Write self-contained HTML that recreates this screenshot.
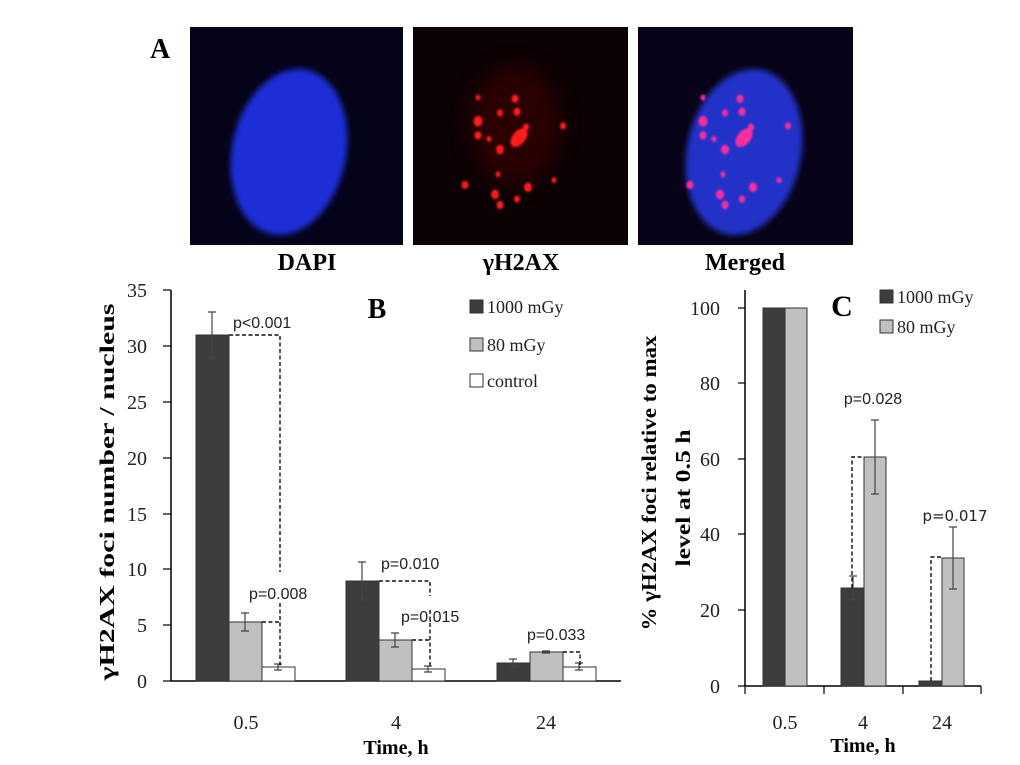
<!DOCTYPE html>
<html><head><meta charset="utf-8"><style>
html,body{margin:0;padding:0;background:#fff;}
svg{display:block;}
.serif{font-family:"Liberation Serif",serif;}
.sans{font-family:"Liberation Sans",sans-serif;}
</style></head><body>
<svg width="1020" height="765" viewBox="0 0 1020 765" xmlns="http://www.w3.org/2000/svg">
<defs>
<filter id="bl" x="-30%" y="-30%" width="160%" height="160%"><feGaussianBlur stdDeviation="3"/></filter>
<filter id="bl2" x="-50%" y="-50%" width="200%" height="200%"><feGaussianBlur stdDeviation="1"/></filter>
<filter id="bl3" x="-50%" y="-50%" width="200%" height="200%"><feGaussianBlur stdDeviation="10"/></filter>
<g id="dots">
<circle cx="65" cy="70" r="2.5"/><circle cx="102" cy="71" r="3.5"/><circle cx="87" cy="83" r="3"/>
<circle cx="104" cy="82" r="3.5"/><circle cx="65" cy="90" r="4.5"/><circle cx="65" cy="102" r="3.5"/>
<circle cx="76" cy="105" r="2.5"/><circle cx="150" cy="94" r="3"/>
<ellipse cx="106" cy="104" rx="10" ry="6" transform="rotate(-40 106 104)"/>
<circle cx="113" cy="95" r="3"/><circle cx="87" cy="114" r="4"/>
<circle cx="85" cy="135" r="2.5"/><circle cx="52" cy="144" r="3.5"/><circle cx="141" cy="140" r="2.5"/>
<circle cx="115" cy="146" r="4"/><circle cx="82" cy="152" r="4"/><circle cx="104" cy="156" r="3"/><circle cx="87" cy="161" r="3.5"/>
</g>
</defs>
<!-- Panel A -->
<text x="150" y="58" class="serif" font-size="28" font-weight="bold">A</text>
<rect x="190" y="27" width="213" height="218" fill="#05031a"/>
<rect x="413" y="27" width="215" height="218" fill="#0c0204"/>
<rect x="638" y="27" width="215" height="218" fill="#080318"/>
<ellipse cx="289" cy="152" rx="57" ry="84" transform="rotate(12 289 152)" fill="#1a2fd6" filter="url(#bl)"/>
<ellipse cx="744" cy="152" rx="57" ry="84" transform="rotate(12 744 152)" fill="#2232c8" filter="url(#bl)"/>
<ellipse cx="515" cy="125" rx="45" ry="60" fill="#4a0606" opacity="0.5" filter="url(#bl3)"/>
<g transform="translate(413,27) translate(0,-12) scale(1,1.18)" fill="#ff1a1a" filter="url(#bl2)"><use href="#dots"/></g>
<g transform="translate(638,27) translate(0,-12) scale(1,1.18)" fill="#ff2fa0" filter="url(#bl2)"><use href="#dots"/></g>
<g class="serif" font-size="24" font-weight="bold" text-anchor="middle">
<text x="307" y="270">DAPI</text><text x="521" y="270">γH2AX</text><text x="745" y="270">Merged</text>
</g>

<!-- Panel B -->
<g stroke="#000" stroke-width="1.5" fill="none">
<line x1="171" y1="290" x2="171" y2="681"/>
<line x1="171" y1="681" x2="621" y2="681"/>
</g>
<g stroke="#000" stroke-width="1.2">
<line x1="163" y1="290" x2="171" y2="290"/><line x1="163" y1="346" x2="171" y2="346"/>
<line x1="163" y1="402" x2="171" y2="402"/><line x1="163" y1="458" x2="171" y2="458"/>
<line x1="163" y1="514" x2="171" y2="514"/><line x1="163" y1="569" x2="171" y2="569"/>
<line x1="163" y1="625" x2="171" y2="625"/><line x1="163" y1="681" x2="171" y2="681"/>
</g>
<g class="serif" font-size="20" text-anchor="end" fill="#222">
<text x="147" y="297">35</text><text x="147" y="353">30</text><text x="147" y="409">25</text>
<text x="147" y="465">20</text><text x="147" y="521">15</text><text x="147" y="576">10</text>
<text x="147" y="632">5</text><text x="147" y="688">0</text>
</g>
<text class="serif" font-size="21" font-weight="bold" transform="translate(114,492) rotate(-90)" text-anchor="middle" textLength="377" lengthAdjust="spacingAndGlyphs">γH2AX  foci number / nucleus</text>
<!-- bars B -->
<g stroke="#333" stroke-width="1">
<rect x="196" y="335" width="33" height="346" fill="#3d3d3d"/>
<rect x="229" y="622" width="33" height="59" fill="#c0c0c0"/>
<rect x="262" y="667" width="33" height="14" fill="#fff"/>
<rect x="346" y="581" width="33" height="100" fill="#3d3d3d"/>
<rect x="379" y="640" width="33" height="41" fill="#c0c0c0"/>
<rect x="412" y="669" width="33" height="12" fill="#fff"/>
<rect x="497" y="663" width="33" height="18" fill="#3d3d3d"/>
<rect x="530" y="652" width="33" height="29" fill="#c0c0c0"/>
<rect x="563" y="667" width="33" height="14" fill="#fff"/>
</g>
<!-- error bars B -->
<g stroke="#444" stroke-width="1.2">
<path d="M212 312V358M208 312H216M208 358H216"/>
<path d="M245 613V631M241 613H249M241 631H249"/>
<path d="M278 664V670M274 664H282M274 670H282"/>
<path d="M362 562V600M358 562H366M358 600H366"/>
<path d="M395 633V647M391 633H399M391 647H399"/>
<path d="M428 666V672M424 666H432M424 672H432"/>
<path d="M513 659V667M509 659H517M509 667H517"/>
<path d="M546 651V653M542 651H550M542 653H550"/>
<path d="M579 663V670M575 663H583M575 670H583"/>
</g>
<!-- dashed B -->
<g stroke="#111" stroke-width="1.4" stroke-dasharray="4,2.5" fill="none">
<path d="M229 335H280V572"/><path d="M280 603V668"/>
<path d="M262 622H280"/>
<path d="M379 581H430V596"/><path d="M430 610V668"/><path d="M412 640H430"/>
<path d="M563 652H580V668"/>
</g>
<g class="sans" font-size="16" fill="#222">
<text x="233" y="328">p&lt;0.001</text>
<text x="249" y="599">p=0.008</text>
<text x="381" y="569">p=0.010</text>
<text x="401" y="622">p=0.015</text>
<text x="527" y="640">p=0.033</text>
</g>
<text x="377" y="318" class="serif" font-size="28" font-weight="bold" text-anchor="middle">B</text>
<g stroke="#333" stroke-width="1">
<rect x="470" y="300" width="13" height="13" fill="#3d3d3d"/>
<rect x="470" y="338" width="13" height="13" fill="#c0c0c0"/>
<rect x="470" y="374" width="13" height="13" fill="#fff"/>
</g>
<g class="serif" font-size="18" fill="#222">
<text x="487" y="313">1000 mGy</text><text x="487" y="351">80 mGy</text><text x="487" y="387">control</text>
</g>
<g class="serif" font-size="20" text-anchor="middle" fill="#222">
<text x="246" y="729">0.5</text><text x="396" y="729">4</text><text x="546" y="729">24</text>
</g>
<text x="396" y="754" class="serif" font-size="20" font-weight="bold" text-anchor="middle">Time, h</text>

<!-- Panel C -->
<g stroke="#000" stroke-width="1.5" fill="none">
<line x1="745" y1="290" x2="745" y2="686"/>
<line x1="745" y1="686" x2="981" y2="686"/>
</g>
<g stroke="#000" stroke-width="1.2">
<line x1="738" y1="308" x2="745" y2="308"/><line x1="738" y1="383" x2="745" y2="383"/>
<line x1="738" y1="459" x2="745" y2="459"/><line x1="738" y1="534" x2="745" y2="534"/>
<line x1="738" y1="610" x2="745" y2="610"/><line x1="738" y1="686" x2="745" y2="686"/>
<line x1="745" y1="686" x2="745" y2="694"/><line x1="824" y1="686" x2="824" y2="694"/>
<line x1="903" y1="686" x2="903" y2="694"/><line x1="981" y1="686" x2="981" y2="694"/>
</g>
<g class="serif" font-size="20" text-anchor="end" fill="#222">
<text x="720" y="315">100</text><text x="720" y="390">80</text><text x="720" y="466">60</text>
<text x="720" y="541">40</text><text x="720" y="617">20</text><text x="720" y="693">0</text>
</g>
<g class="serif" font-size="21" font-weight="bold" text-anchor="middle">
<text transform="translate(656,483) rotate(-90)" textLength="295" lengthAdjust="spacingAndGlyphs">% γH2AX foci relative to max</text>
<text transform="translate(690,498) rotate(-90)" textLength="137" lengthAdjust="spacingAndGlyphs">level at 0.5 h</text>
</g>
<g stroke="#333" stroke-width="1">
<rect x="763" y="308" width="22" height="378" fill="#3d3d3d"/>
<rect x="785" y="308" width="22" height="378" fill="#c0c0c0"/>
<rect x="841" y="588" width="23" height="98" fill="#3d3d3d"/>
<rect x="864" y="457" width="22" height="229" fill="#c0c0c0"/>
<rect x="919" y="681" width="23" height="5" fill="#3d3d3d"/>
<rect x="942" y="558" width="22" height="128" fill="#c0c0c0"/>
</g>
<g stroke="#444" stroke-width="1.2">
<path d="M853 576V600M849 576H857M849 600H857"/>
<path d="M875 420V494M871 420H879M871 494H879"/>
<path d="M953 527V589M949 527H957M949 589H957"/>
</g>
<g stroke="#111" stroke-width="1.4" stroke-dasharray="4,2.5" fill="none">
<path d="M852 588V457H864"/>
<path d="M931 681V557H942"/>
</g>
<text x="873" y="404" class="sans" font-size="16" text-anchor="middle" fill="#222">p=0.028</text>
<text x="955" y="521" font-family="DejaVu Sans,sans-serif" font-size="15" text-anchor="middle" fill="#222">p=0.017</text>
<text x="842" y="316" class="serif" font-size="30" font-weight="bold" text-anchor="middle">C</text>
<g stroke="#333" stroke-width="1">
<rect x="880" y="290" width="13" height="13" fill="#3d3d3d"/>
<rect x="880" y="320" width="13" height="13" fill="#c0c0c0"/>
</g>
<g class="serif" font-size="18" fill="#222">
<text x="897" y="303">1000 mGy</text><text x="897" y="333">80 mGy</text>
</g>
<g class="serif" font-size="20" text-anchor="middle" fill="#222">
<text x="785" y="729">0.5</text><text x="863" y="729">4</text><text x="942" y="729">24</text>
</g>
<text x="863" y="752" class="serif" font-size="20" font-weight="bold" text-anchor="middle">Time, h</text>
</svg>
</body></html>
